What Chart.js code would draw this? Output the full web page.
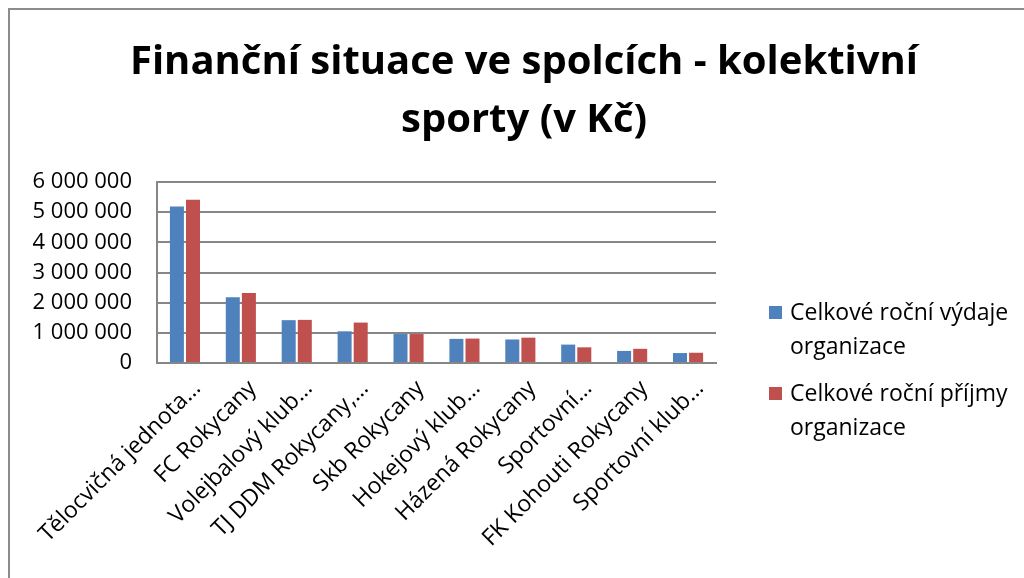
<!DOCTYPE html>
<html lang="cs">
<head>
    <meta charset="UTF-8">
    <title>Finanční situace ve spolcích</title>
    <style>
        html, body { margin: 0; padding: 0; background: #fff; overflow: hidden; }
        body { width: 1024px; height: 578px; position: relative; font-family: "Open Sans", sans-serif; }
        #frame {
            position: absolute; left: 8px; top: 8px; width: 1028px; height: 570px;
            border-left: 2px solid #8c8c8c; border-top: 2px solid #8c8c8c;
        }
        #legend { position: absolute; left: 769px; top: 294px; font-size: 23px; line-height: 34px; color: #000; }
        .item { position: relative; padding-left: 21px; margin-bottom: 13px; }
        .box { position: absolute; left: 0; top: 12px; width: 13px; height: 13px; }
    </style>
</head>
<body>
    <div id="frame"><canvas id="chart" width="1028" height="568"></canvas></div>
    <div id="legend"></div>

    <script src="https://cdn.jsdelivr.net/npm/chart.js"></script>
    <script>
        const categories = ['Tělocvičná jednota…', 'FC Rokycany', 'Volejbalový klub…', 'TJ DDM Rokycany,…',
            'Skb Rokycany', 'Hokejový klub…', 'Házená Rokycany', 'Sportovní…', 'FK Kohouti Rokycany', 'Sportovní klub…'];
        const vydaje = [5190000, 2180000, 1420000, 1050000, 960000, 800000, 780000, 610000, 400000, 330000];
        const prijmy = [5410000, 2320000, 1430000, 1340000, 960000, 810000, 840000, 520000, 470000, 340000];
        const seriesNames = [['Celkové roční výdaje', 'organizace'], ['Celkové roční příjmy', 'organizace']];
        const colors = ['#4f81bd', '#c0504d'];

        const fmt = v => String(v).replace(/\B(?=(\d{3})+(?!\d))/g, ' ');

        const chart = new Chart(document.getElementById('chart').getContext('2d'), {
            type: 'bar',
            data: {
                labels: categories,
                datasets: [
                    { label: seriesNames[0].join(' '), data: vydaje, backgroundColor: colors[0] },
                    { label: seriesNames[1].join(' '), data: prijmy, backgroundColor: colors[1] }
                ]
            },
            options: {
                responsive: false,
                animation: false,
                categoryPercentage: 0.576,
                barPercentage: 0.87,
                plugins: {
                    legend: { display: false },
                    tooltip: { enabled: false },
                    title: {
                        display: true,
                        text: ['Finanční situace ve spolcích - kolektivní', 'sporty (v Kč)'],
                        color: '#000',
                        font: { family: 'Open Sans', size: 40, weight: 'bold', lineHeight: 1.45 },
                        padding: { top: 24, bottom: 32 }
                    }
                },
                scales: {
                    x: {
                        grid: { display: false, drawTicks: false },
                        border: { color: '#868686', width: 2 },
                        ticks: { color: '#000', font: { family: 'Open Sans', size: 23 }, minRotation: 45, maxRotation: 45,
                                 padding: 12, labelOffset: 12, autoSkip: false },
                        afterFit: s => { s.height = 215; }
                    },
                    y: {
                        min: 0, max: 6000000,
                        grid: { color: '#868686', lineWidth: 2, drawTicks: false },
                        border: { color: '#868686', width: 2 },
                        ticks: { stepSize: 1000000, autoSkip: false, color: '#000', font: { family: 'Open Sans', size: 22 },
                                 padding: 25, callback: v => fmt(v) },
                        afterFit: s => { s.width = 147; }
                    },
                    // prázdná osa vpravo drží místo pro legendu
                    yRight: {
                        position: 'right',
                        grid: { display: false, drawTicks: false },
                        border: { display: false },
                        ticks: { display: false },
                        afterFit: s => { s.width = 322; }
                    }
                }
            }
        });

        // legenda s dvouřádkovým textem
        const legend = document.getElementById('legend');
        seriesNames.forEach((lines, i) => {
            const item = document.createElement('div');
            item.className = 'item';
            item.innerHTML = '<span class="box" style="background:' + colors[i] + '"></span>' + lines.join('<br>');
            legend.appendChild(item);
        });
    </script>
</body>
</html>
